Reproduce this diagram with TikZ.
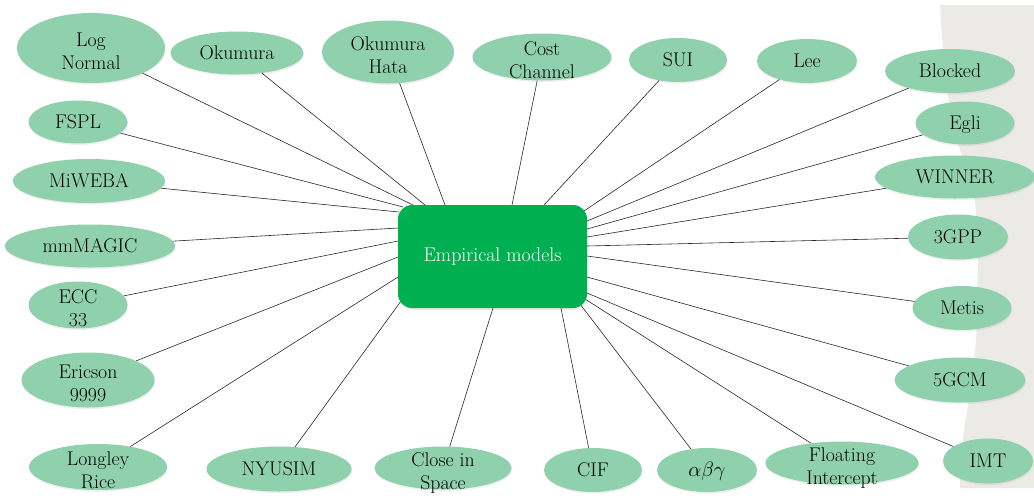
\documentclass[tikz,border=0pt]{standalone}
\usetikzlibrary{shapes.geometric,backgrounds,shadows}
\definecolor{ellfill}{RGB}{143,209,172}
\definecolor{boxfill}{RGB}{0,176,80}
\definecolor{paper}{RGB}{236,234,230}
\definecolor{linkc}{RGB}{40,40,40}
\newcommand\mtxt[1]{\makebox[0pt][c]{\smash{\raisebox{-0.52em}{\begin{tabular}{@{}c@{}}#1\end{tabular}}}}}
\newcommand\otxt[1]{\makebox[0pt][c]{\smash{\raisebox{-0.33em}{#1}}}}
\begin{document}
\begin{tikzpicture}[x=1pt,y=-1pt,
  model/.style n args={2}{ellipse, fill=ellfill, inner sep=0pt, outer sep=0pt,
     minimum width=#1pt, minimum height=#2pt,
     drop shadow={opacity=0.12, shadow xshift=0.6pt, shadow yshift=-1.6pt},
     font=\rmfamily\fontsize{19.8}{23}\selectfont},
  hub/.style={rectangle, rounded corners=14pt, fill=boxfill, inner sep=0pt,
     minimum width=189pt, minimum height=103pt, text=white,
     drop shadow={opacity=0.15, shadow xshift=0.6pt, shadow yshift=-1.8pt},
     font=\rmfamily\fontsize{19.8}{23}\selectfont},
  link/.style={draw=linkc, line width=0.6pt}]
\useasboundingbox (0,0) rectangle (1034,499);

\node[hub] (box) at (492.5,256.5) {Empirical models};

\node[model={148}{70}] (lognormal) at (91,48) {\mtxt{Log\\Normal}};
\node[model={133}{43}] (okumura) at (237,53) {\otxt{Okumura}};
\node[model={132}{63}] (okhata) at (388,52) {\mtxt{Okumura\\Hata}};
\node[model={139}{47}] (cost) at (542,57) {\mtxt{Cost\\Channel}};
\node[model={98}{44}] (sui) at (678,60) {\otxt{SUI}};
\node[model={100}{44}] (lee) at (807,61) {\otxt{Lee}};
\node[model={130}{44}] (blocked) at (950,71) {\otxt{Blocked}};
\node[model={99}{43}] (egli) at (965,123) {\otxt{Egli}};
\node[model={160}{43}] (winner) at (955,177) {\otxt{WINNER}};
\node[model={100}{45}] (gpp) at (958,237) {\otxt{3GPP}};
\node[model={99}{44}] (metis) at (962,308) {\otxt{Metis}};
\node[model={131}{45}] (gcm) at (960,380) {\otxt{5GCM}};
\node[model={90}{45}] (imt) at (988,461) {\otxt{IMT}};
\node[model={153}{43}] (floating) at (842,463) {\mtxt{Floating\\Intercept}};
\node[model={100}{44}] (abg) at (707,470) {\otxt{$\alpha\beta\gamma$}};
\node[model={98}{44}] (cif) at (593,470) {\otxt{CIF}};
\node[model={137}{43}] (cis) at (443,468) {\mtxt{Close in\\Space}};
\node[model={145}{45}] (nyusim) at (279,469) {\otxt{NYUSIM}};
\node[model={138}{46}] (longley) at (98,467) {\mtxt{Longley\\Rice}};
\node[model={133}{55}] (ericson) at (88,380) {\mtxt{Ericson\\9999}};
\node[model={99}{47}] (ecc) at (78,305) {\mtxt{ECC\\33}};
\node[model={170}{43}] (mmmagic) at (90,246) {\otxt{mmMAGIC}};
\node[model={152}{44}] (miweba) at (89,181) {\otxt{MiWEBA}};
\node[model={99}{43}] (fspl) at (78,122) {\otxt{FSPL}};

% end points on the hub border
\coordinate (pLog) at (413,205);
\coordinate (pOku) at (425,205);
\coordinate (pOkH) at (445,205);
\coordinate (pCost) at (512,205);
\coordinate (pSui) at (544,205);
\coordinate (pLee) at (584,211);
\coordinate (pBlk) at (587,221);
\coordinate (pEgl) at (587,229);
\coordinate (pWin) at (587,237);
\coordinate (pGpp) at (587,246);
\coordinate (pMet) at (587,256);
\coordinate (pGcm) at (587,277);
\coordinate (pImt) at (587,293);
\coordinate (pFlo) at (585,299);
\coordinate (pAbg) at (580,304);
\coordinate (pCif) at (561,308);
\coordinate (pCis) at (493,308);
\coordinate (pNyu) at (401,301);
\coordinate (pLon) at (398,277);
\coordinate (pEri) at (398,257);
\coordinate (pEcc) at (398,241);
\coordinate (pMmm) at (398,228);
\coordinate (pMiw) at (399,212);
\coordinate (pFsp) at (403,207);

\begin{pgfonlayer}{background}
\fill[white] (0,0) rectangle (1034,499);
\fill[paper] (1034,5) -- (1034,488) -- plot[smooth] coordinates {(960,488) (961,460) (964,430) (969,400) (973,370) (976,340) (977,300) (978,260) (977,225) (974,195) (968,170) (960,150) (952,120) (947,90) (943,50) (940,5)} -- cycle;
\draw[link] (lognormal) -- (pLog);
\draw[link] (okumura) -- (pOku);
\draw[link] (okhata) -- (pOkH);
\draw[link] (cost) -- (pCost);
\draw[link] (sui) -- (pSui);
\draw[link] (lee) -- (pLee);
\draw[link] (blocked) -- (pBlk);
\draw[link] (egli) -- (pEgl);
\draw[link] (winner) -- (pWin);
\draw[link] (gpp) -- (pGpp);
\draw[link] (metis) -- (pMet);
\draw[link] (gcm) -- (pGcm);
\draw[link] (imt) -- (pImt);
\draw[link] (floating) -- (pFlo);
\draw[link] (abg) -- (pAbg);
\draw[link] (cif) -- (pCif);
\draw[link] (cis) -- (pCis);
\draw[link] (nyusim) -- (pNyu);
\draw[link] (longley) -- (pLon);
\draw[link] (ericson) -- (pEri);
\draw[link] (ecc) -- (pEcc);
\draw[link] (mmmagic) -- (pMmm);
\draw[link] (miweba) -- (pMiw);
\draw[link] (fspl) -- (pFsp);
\end{pgfonlayer}
\end{tikzpicture}
\end{document}
